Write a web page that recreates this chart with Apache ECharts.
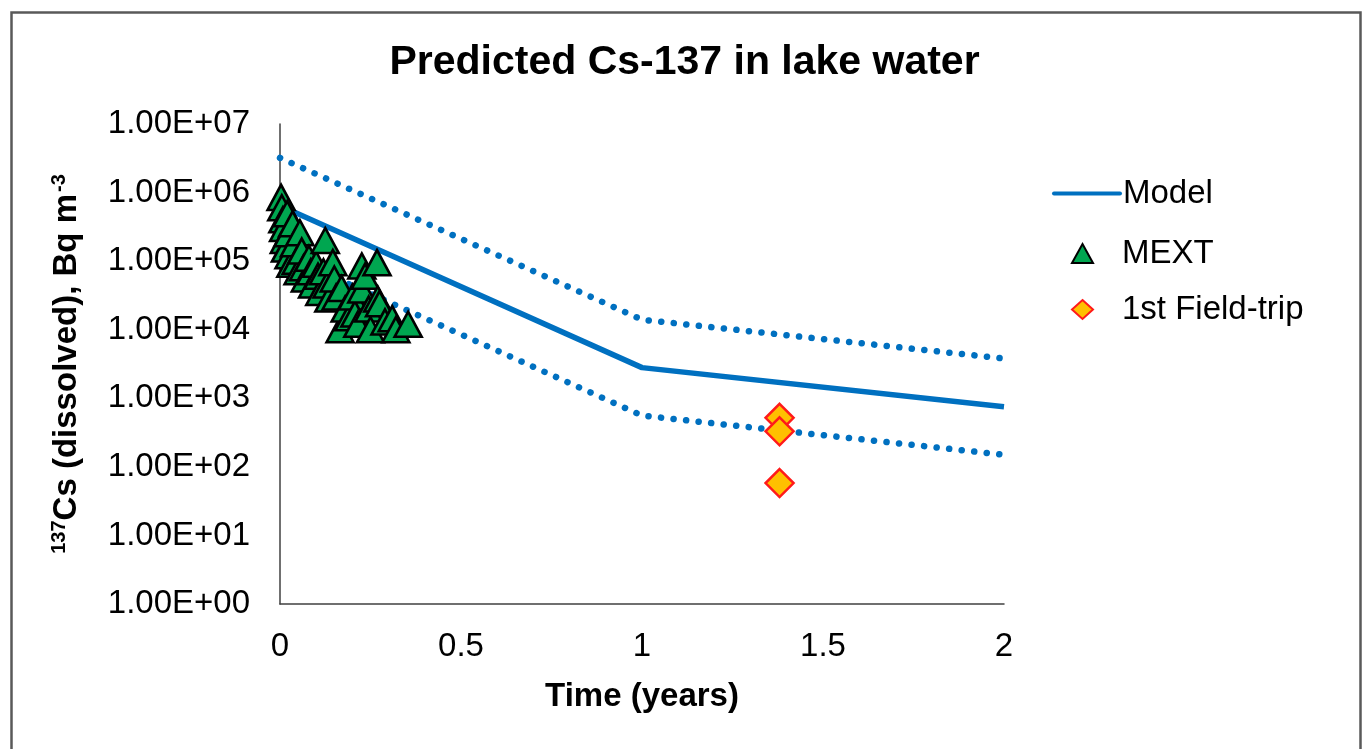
<!DOCTYPE html>
<html>
<head>
<meta charset="utf-8">
<script src="https://cdn.jsdelivr.net/npm/echarts@6/dist/echarts.min.js"></script>
<style>
html,body{margin:0;padding:0;background:#fff;}
#chart{width:1369px;height:749px;}
</style>
</head>
<body>
<div id="chart"></div>
<script>
// ---- data ----
const modelX = [0, 1, 2];
const modelY = [6.4e5, 2.8e3, 750];
const upperY = [3.2e6, 1.4e4, 3.8e3];
const lowerY = [1.3e5, 560, 150];

const mextX = [0.003, 0.005, 0.008, 0.010, 0.012, 0.015, 0.020, 0.022, 0.025, 0.030,
               0.035, 0.040, 0.045, 0.050, 0.055, 0.060, 0.065, 0.070, 0.080, 0.085,
               0.090, 0.100, 0.105, 0.110, 0.120, 0.125, 0.130, 0.135, 0.146, 0.150,
               0.155, 0.166, 0.170, 0.180, 0.190, 0.200, 0.207, 0.215, 0.226, 0.226,
               0.235, 0.245, 0.250, 0.268, 0.270, 0.275, 0.290, 0.310, 0.320, 0.354];
const mextY = [8.5e5, 6.0e5, 4.0e5, 3.0e5, 2.0e5, 1.5e5, 4.9e5, 2.5e5, 1.2e5, 9.0e4,
               3.5e5, 1.8e5, 1.0e5, 7.0e4, 2.6e5, 1.4e5, 8.0e4, 5.5e4, 1.1e5, 7.0e4,
               4.5e4, 9.0e4, 6.0e4, 3.5e4, 7.0e4, 2.0e5, 4.5e4, 2.8e4, 9.5e4, 5.5e4,
               3.0e4, 1.0e4, 4.0e4, 2.0e4, 1.5e4, 3.0e4, 1.7e4, 1.2e4, 8.5e4, 3.8e4,
               6.0e4, 2.0e4, 1.0e4, 9.5e4, 2.8e4, 2.4e4, 1.3e4, 1.45e4, 1.0e4, 1.2e4];

const fieldX = [1.38, 1.38, 1.38];
const fieldY = [520, 330, 58];

const xTicks = [0, 0.5, 1, 1.5, 2];

// ---- chart ----
const zip = (xs, ys) => xs.map((x, i) => [x, ys[i]]);
const FONT = '"Liberation Sans", Arial, sans-serif';
const blue = '#0070C0';

const chart = echarts.init(document.getElementById('chart'), null, {renderer: 'canvas'});
chart.setOption({
  animation: false,
  backgroundColor: '#fff',
  graphic: [{
    type: 'rect', left: 9, top: 10, z: -1,
    shape: {x: 0, y: 0, width: 1349, height: 760},
    style: {fill: 'none', stroke: '#595959', lineWidth: 2.5}
  }],
  title: {
    text: 'Predicted Cs-137 in lake water',
    left: 'center', top: 37,
    textStyle: {fontFamily: FONT, fontSize: 41, fontWeight: 'bold', color: '#000'}
  },
  grid: {left: 280, right: 365, top: 124, bottom: 145, containLabel: false},
  legend: [{
    data: [{name: 'Model', icon: 'path://M2,0 L68,0 A2,2 0 0 1 68,4 L2,4 A2,2 0 0 1 2,0 Z'}],
    left: 1047, top: 172,
    itemWidth: 70, itemHeight: 5,
    textStyle: {fontFamily: FONT, fontSize: 33, color: '#000', padding: [0, 0, 0, -4]}
  }, {
    data: ['MEXT', '1st Field-trip'],
    orient: 'vertical',
    left: 1066, top: 232,
    itemWidth: 21, itemHeight: 19, itemGap: 23,
    textStyle: {fontFamily: FONT, fontSize: 33, color: '#000', padding: [0, 0, 0, 24]}
  }],
  xAxis: {
    type: 'value', min: 0, max: 2, interval: 0.5,
    name: 'Time (years)', nameLocation: 'middle', nameGap: 76,
    nameTextStyle: {fontFamily: FONT, fontSize: 33, fontWeight: 'bold', color: '#000'},
    axisLine: {show: true, lineStyle: {color: '#404040', width: 1.5}},
    axisTick: {show: false},
    splitLine: {show: false},
    axisLabel: {fontFamily: FONT, fontSize: 33, color: '#000', margin: 26,
      formatter: v => String(v)}
  },
  yAxis: {
    type: 'log', logBase: 10, min: 1, max: 1e7,
    name: '{sup|137}{b|Cs (dissolved), Bq m}{sup2|-3}',
    nameLocation: 'middle', nameRotate: 90, nameGap: 195,
    nameTextStyle: {
      fontFamily: FONT, fontSize: 33, fontWeight: 'bold', color: '#000',
      rich: {
        b: {fontFamily: FONT, fontSize: 33, fontWeight: 'bold', color: '#000'},
        sup: {fontFamily: FONT, fontSize: 20, fontWeight: 'bold', color: '#000', verticalAlign: 'bottom', padding: [0, 0, 16, 0]},
        sup2: {fontFamily: FONT, fontSize: 20, fontWeight: 'bold', color: '#000', verticalAlign: 'bottom', padding: [0, 0, 16, 2]}
      }
    },
    axisLine: {show: true, lineStyle: {color: '#404040', width: 1.5}},
    axisTick: {show: false},
    splitLine: {show: false},
    minorTick: {show: false},
    axisLabel: {fontFamily: FONT, fontSize: 33, color: '#000', margin: 30,
      formatter: v => {
        const e = Math.round(Math.log10(v));
        return '1.00E+' + (e < 10 ? '0' : '') + e;
      }}
  },
  series: [{
    name: 'Model', type: 'line', data: zip(modelX, modelY),
    symbol: 'none', z: 2,
    lineStyle: {color: blue, width: 5.5},
    itemStyle: {color: blue}
  }, {
    name: 'upper', type: 'line', data: zip(modelX, upperY),
    symbol: 'none', z: 2,
    lineStyle: {color: blue, width: 6.5, type: [0.1, 12.5], cap: 'round'}
  }, {
    name: 'lower', type: 'line', data: zip(modelX, lowerY),
    symbol: 'none', z: 2,
    lineStyle: {color: blue, width: 6.5, type: [0.1, 12.5], cap: 'round'}
  }, {
    name: 'MEXT', type: 'scatter', data: zip(mextX, mextY),
    symbol: 'triangle', symbolSize: [27, 25], z: 3,
    itemStyle: {color: '#00A650', borderColor: '#000', borderWidth: 2.6, opacity: 1}
  }, {
    name: '1st Field-trip', type: 'scatter', data: zip(fieldX, fieldY),
    symbol: 'diamond', symbolSize: [28, 28], z: 4,
    itemStyle: {color: '#FFC000', borderColor: '#FF1A1A', borderWidth: 2.5, opacity: 1}
  }]
});
</script>
</body>
</html>
